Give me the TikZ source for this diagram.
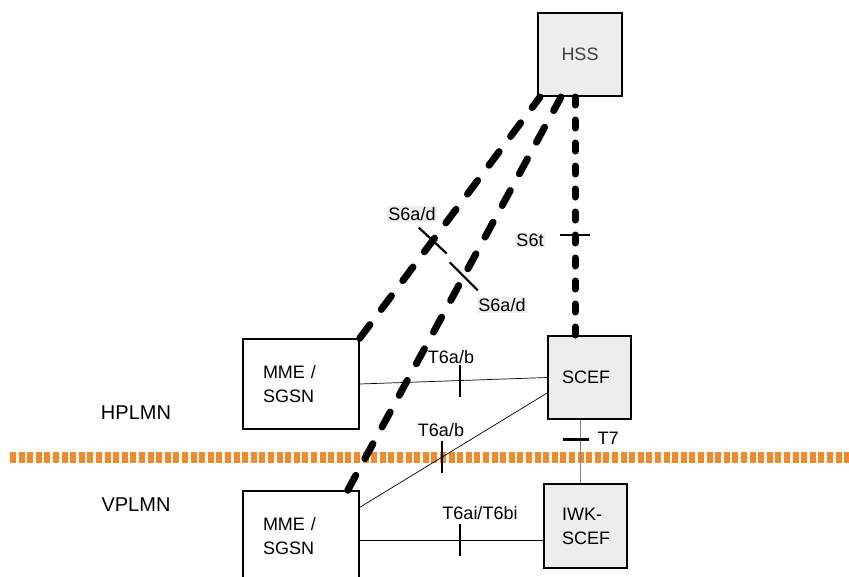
\documentclass[tikz,border=0pt]{standalone}
\usepackage{fontspec}
\setmainfont{Liberation Sans}
\definecolor{boxgray}{HTML}{EDEDED}
\definecolor{borderorange}{HTML}{F28A2B}

\begin{document}
\begin{tikzpicture}[
    x=1pt, y=-1pt,
    font=\fontsize{18}{24}\selectfont,
    box/.style={
        draw,
        line width=1.4pt,
        align=left,
        minimum height=90pt,
        inner ysep=0pt
    },
    entity/.style={
        box,
        fill=boxgray,
        minimum height=83pt
    },
    link/.style={
        line width=0.7pt
    },
    sigdash/.style={
        line width=7pt,
        line cap=round,
        dash pattern=on 17pt off 19pt
    },
    sigdot/.style={
        line width=7pt,
        line cap=round,
        dash pattern=on 8pt off 15pt
    },
    tick/.style={
        line width=2.2pt
    },
    lbl/.style={
        inner sep=1pt
    },
    lblbg/.style={
        lbl,
        fill=boxgray
    }
]

\useasboundingbox (0,0) rectangle (849,576);

% network border
\draw[borderorange, line width=11pt, dash pattern=on 6pt off 2.6pt]
    (10,457) -- (849,457);

\node[entity, line width=2pt, align=center, minimum width=84pt,
      text=darkgray] (hss) at (580,54.5) {HSS};

\node[box, text width=76pt, inner xsep=20pt] (mme1) at (301,384)
    {MME /\\SGSN};

\node[entity, text width=55pt, inner xsep=14pt] (scef) at (589.5,377.5)
    {SCEF};

\node[box, text width=76pt, inner xsep=20pt] (mme2) at (301,536)
    {MME /\\SGSN};

\node[entity, text width=47pt, inner xsep=18pt, minimum height=84pt]
    (iwk) at (585.5,526) {IWK-\\SCEF};

\node[font=\fontsize{20}{24}\selectfont] (hplmn) at (136,413) {HPLMN};
\node[font=\fontsize{20}{24}\selectfont] (vplmn) at (136,505) {VPLMN};

% S6 links
\draw[sigdash] (mme1.north east)
    -- coordinate[pos=0.405] (s6a1) ([xshift=3pt]hss.south west);
\draw[sigdash] ([xshift=-12pt]mme2.north east)
    -- coordinate[pos=0.544] (s6a2) ([xshift=24pt]hss.south west);
\draw[sigdot] ([xshift=-5pt]hss.south)
    -- coordinate[pos=0.58] (s6t) ([xshift=-5pt]hss.south |- scef.north);

% T6 and T7 links
\draw[link] (mme1.east) -- coordinate[pos=0.534] (t6a1) (scef.west);
\draw[link] (mme2.26) -- coordinate[pos=0.44] (t6a2) (scef.200);
\draw[link] ([yshift=-4pt]mme2.east)
    -- coordinate[pos=0.546] (t6ai) ([yshift=-4pt]mme2.east -| iwk.west);
\draw[link, gray] ([xshift=-5.5pt]iwk.north)
    -- coordinate[pos=0.69] (t7) ([xshift=-5.5pt]iwk.north |- scef.south);

% reference point ticks
\draw[tick] ([shift={(-14,-13)}]s6a1) -- ([shift={(14,13)}]s6a1);
\draw[tick] ([shift={(-14,-14)}]s6a2) -- ([shift={(14,14)}]s6a2);
\draw[tick] ([xshift=-15pt]s6t) -- ([xshift=15pt]s6t);
\draw[tick] ([yshift=-16pt]t6a1) -- ([yshift=16pt]t6a1);
\draw[tick] ([yshift=-16pt]t6a2) -- ([yshift=16pt]t6a2);
\draw[tick] ([yshift=-16pt]t6ai) -- ([yshift=16pt]t6ai);
\draw[tick] ([xshift=-17pt]t7) -- ([xshift=9pt]t7);

\node[lblbg] (s6a1lbl) at (412,214) {S6a/d};
\node[lblbg] (s6a2lbl) at (502,305) {S6a/d};
\node[lblbg] (s6tlbl) at (530,240) {S6t};
\node[lbl] (t6a1lbl) at (451,357) {T6a/b};
\node[lbl] (t6a2lbl) at (441,430) {T6a/b};
\node[lbl] (t6ailbl) at (480,513) {T6ai/T6bi};
\node[lbl] (t7lbl) at (608,438) {T7};

\end{tikzpicture}
\end{document}
